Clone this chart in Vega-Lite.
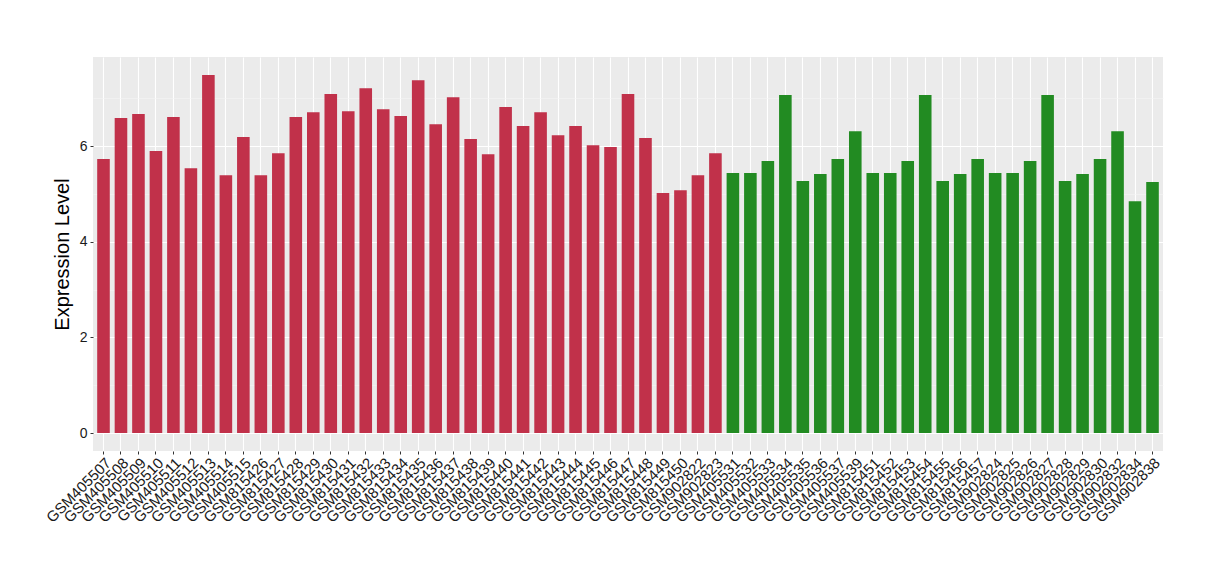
{
  "$schema": "https://vega.github.io/schema/vega-lite/v6.json",
  "width": 1070,
  "height": 394,
  "autosize": {"type": "none"},
  "padding": {"left": 93, "top": 57, "right": 57, "bottom": 129},
  "background": "white",
  "config": {
    "view": {"fill": "#EBEBEB", "stroke": null},
    "font": "Liberation Sans"
  },
  "data": {
    "values": [
      {"sample": "GSM405507", "group": "A", "value": 5.73},
      {"sample": "GSM405508", "group": "A", "value": 6.59},
      {"sample": "GSM405509", "group": "A", "value": 6.67},
      {"sample": "GSM405510", "group": "A", "value": 5.90},
      {"sample": "GSM405511", "group": "A", "value": 6.61},
      {"sample": "GSM405512", "group": "A", "value": 5.54},
      {"sample": "GSM405513", "group": "A", "value": 7.49},
      {"sample": "GSM405514", "group": "A", "value": 5.39},
      {"sample": "GSM405515", "group": "A", "value": 6.19},
      {"sample": "GSM815426", "group": "A", "value": 5.39},
      {"sample": "GSM815427", "group": "A", "value": 5.85},
      {"sample": "GSM815428", "group": "A", "value": 6.61},
      {"sample": "GSM815429", "group": "A", "value": 6.71},
      {"sample": "GSM815430", "group": "A", "value": 7.09},
      {"sample": "GSM815431", "group": "A", "value": 6.73},
      {"sample": "GSM815432", "group": "A", "value": 7.21},
      {"sample": "GSM815433", "group": "A", "value": 6.77},
      {"sample": "GSM815434", "group": "A", "value": 6.63},
      {"sample": "GSM815435", "group": "A", "value": 7.38},
      {"sample": "GSM815436", "group": "A", "value": 6.46},
      {"sample": "GSM815437", "group": "A", "value": 7.02},
      {"sample": "GSM815438", "group": "A", "value": 6.15},
      {"sample": "GSM815439", "group": "A", "value": 5.83},
      {"sample": "GSM815440", "group": "A", "value": 6.82},
      {"sample": "GSM815441", "group": "A", "value": 6.42},
      {"sample": "GSM815442", "group": "A", "value": 6.71},
      {"sample": "GSM815443", "group": "A", "value": 6.23},
      {"sample": "GSM815444", "group": "A", "value": 6.42},
      {"sample": "GSM815445", "group": "A", "value": 6.02},
      {"sample": "GSM815446", "group": "A", "value": 5.98},
      {"sample": "GSM815447", "group": "A", "value": 7.09},
      {"sample": "GSM815448", "group": "A", "value": 6.17},
      {"sample": "GSM815449", "group": "A", "value": 5.02},
      {"sample": "GSM815450", "group": "A", "value": 5.08},
      {"sample": "GSM902822", "group": "A", "value": 5.39},
      {"sample": "GSM902823", "group": "A", "value": 5.85},
      {"sample": "GSM405531", "group": "B", "value": 5.44},
      {"sample": "GSM405532", "group": "B", "value": 5.44},
      {"sample": "GSM405533", "group": "B", "value": 5.69},
      {"sample": "GSM405534", "group": "B", "value": 7.07},
      {"sample": "GSM405535", "group": "B", "value": 5.27},
      {"sample": "GSM405536", "group": "B", "value": 5.42},
      {"sample": "GSM405537", "group": "B", "value": 5.73},
      {"sample": "GSM405539", "group": "B", "value": 6.31},
      {"sample": "GSM815451", "group": "B", "value": 5.44},
      {"sample": "GSM815452", "group": "B", "value": 5.44},
      {"sample": "GSM815453", "group": "B", "value": 5.69},
      {"sample": "GSM815454", "group": "B", "value": 7.07},
      {"sample": "GSM815455", "group": "B", "value": 5.27},
      {"sample": "GSM815456", "group": "B", "value": 5.42},
      {"sample": "GSM815457", "group": "B", "value": 5.73},
      {"sample": "GSM902824", "group": "B", "value": 5.44},
      {"sample": "GSM902825", "group": "B", "value": 5.44},
      {"sample": "GSM902826", "group": "B", "value": 5.69},
      {"sample": "GSM902827", "group": "B", "value": 7.07},
      {"sample": "GSM902828", "group": "B", "value": 5.27},
      {"sample": "GSM902829", "group": "B", "value": 5.42},
      {"sample": "GSM902830", "group": "B", "value": 5.73},
      {"sample": "GSM902832", "group": "B", "value": 6.31},
      {"sample": "GSM902834", "group": "B", "value": 4.85},
      {"sample": "GSM902838", "group": "B", "value": 5.25}
    ]
  },
  "mark": {"type": "bar"},
  "encoding": {
    "x": {
      "field": "sample",
      "type": "nominal",
      "sort": null,
      "scale": {"paddingInner": 0.28, "paddingOuter": 0.24},
      "axis": {
        "title": null,
        "bandPosition": 0.5,
        "grid": true,
        "gridColor": "white",
        "gridWidth": 1.1,
        "domain": false,
        "tickSize": 3,
        "tickColor": "#333333",
        "labelAngle": -45,
        "labelAlign": "right",
        "labelBaseline": "top",
        "labelFontSize": 15,
        "labelColor": "#1a1a1a",
        "labelPadding": 1,
        "labelOverlap": false
      }
    },
    "y": {
      "field": "value",
      "type": "quantitative",
      "scale": {"domain": [-0.374, 7.864], "nice": false, "zero": false},
      "axis": {
        "title": "Expression Level",
        "titleFontSize": 20,
        "titleFontWeight": "normal",
        "titleColor": "black",
        "titlePadding": 7,
        "values": [0, 1, 2, 3, 4, 5, 6, 7],
        "grid": true,
        "gridColor": {"condition": {"test": "datum.value % 2 === 1", "value": "#F5F5F5"}, "value": "white"},
        "gridWidth": {"condition": {"test": "datum.value % 2 === 1", "value": 0.6}, "value": 1.1},
        "tickOpacity": {"condition": {"test": "datum.value % 2 === 1", "value": 0}, "value": 1},
        "labelExpr": "datum.value % 2 === 0 ? datum.label : ''",
        "domain": false,
        "tickSize": 3,
        "tickColor": "#333333",
        "labelFontSize": 14,
        "labelColor": "#1a1a1a",
        "labelPadding": 3
      }
    },
    "color": {
      "field": "group",
      "type": "nominal",
      "scale": {"domain": ["A", "B"], "range": ["#C1314A", "#228B22"]},
      "legend": null
    }
  }
}
